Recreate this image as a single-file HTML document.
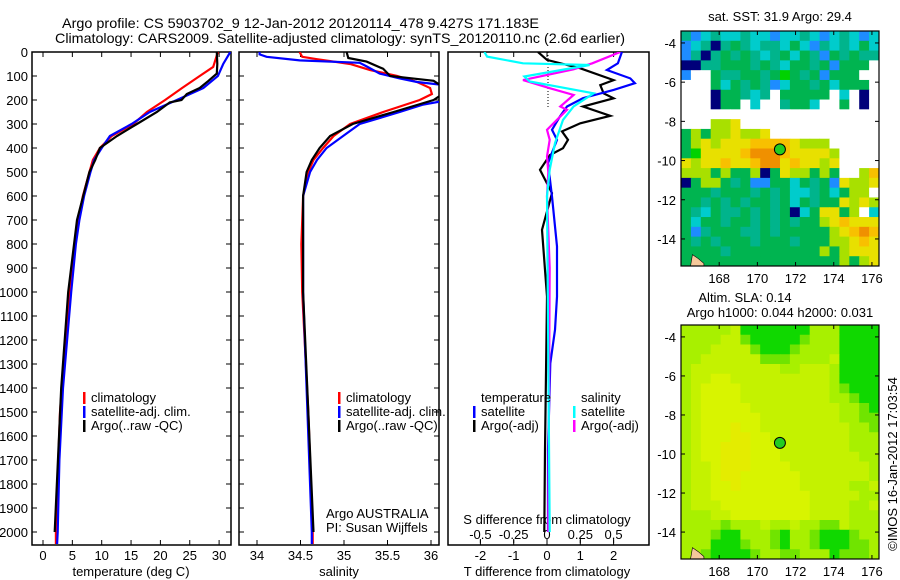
<!DOCTYPE html>
<html><head><meta charset="utf-8">
<style>
html,body{margin:0;padding:0;background:#fff;}
svg{display:block;font-family:"Liberation Sans",sans-serif;}
text{font-size:13px;fill:#000;}
</style></head>
<body>
<svg id="chart" width="900" height="580" viewBox="0 0 900 580" xmlns="http://www.w3.org/2000/svg">
<text x="62" y="28" style="font-size:14px" textLength="477" lengthAdjust="spacingAndGlyphs">Argo profile: CS 5903702_9 12-Jan-2012 20120114_478 9.427S 171.183E</text>
<text x="55" y="43" style="font-size:14px" textLength="570" lengthAdjust="spacingAndGlyphs">Climatology: CARS2009. Satellite-adjusted climatology: synTS_20120110.nc (2.6d earlier)</text>
<g id="g"></g>
</svg>
<script>
// ---- temperature profiles (depth m, temp degC)
const tClimDepth=[0,62,100,150,200,250,300,350,400,450,500,600,700,800,900,1000,1400,1500,1700,2000,2050];
const tClimVal=[29.8,29,26.7,23.7,20.8,17.7,15.4,11.7,9.7,8.5,7.9,6.8,6.0,5.4,5.0,4.6,3.2,2.9,2.6,2.2,2.2];
const tSatDepth=[0,50,100,150,200,250,300,350,400,450,500,600,700,800,1000,1400,1700,2000,2050];
const tSatVal=[31.9,30.7,29.8,27.3,22.8,18.2,15.1,11.4,10,8.7,8.1,7.0,6.2,5.6,4.8,3.4,2.8,2.5,2.4];
const tArgoDepth=[0,50,90,120,150,175,200,210,250,300,350,400,450,500,700,1000,1400,2000];
const tArgoVal=[29.6,29.7,29.6,28.2,26.7,24.5,23.6,21.6,19.4,16,12.6,9.7,8.9,7.9,5.8,4.3,3.1,2.0];
// ---- salinity profiles
const sClimDepth=[0,20,30,50,75,100,125,150,175,200,250,300,350,400,450,500,600,800,1000,1500,2000,2050];
const sClimVal=[34.49,34.52,34.69,35.07,35.30,35.61,35.84,35.99,36.01,35.87,35.45,35.07,34.88,34.76,34.65,34.59,34.53,34.51,34.52,34.59,34.64,34.64];
const sSatDepth=[0,10,20,35,45,60,90,110,125,140,200,220,250,300,350,400,450,500,600,1000,2000,2050];
const sSatVal=[34.03,34.03,34.11,34.49,35.18,35.26,35.41,35.64,35.84,36.2,36.2,35.9,35.64,35.18,34.99,34.8,34.69,34.61,34.53,34.53,34.63,34.63];
const sArgoDepth=[0,25,40,70,100,120,160,200,250,300,350,400,450,500,600,1000,2000];
const sArgoVal=[35.03,35.05,35.26,35.45,35.53,36.03,36.2,36.03,35.57,35.1,34.84,34.72,34.63,34.57,34.53,34.53,34.65];
// ---- differences from climatology
const dTSatDepth=[0,47,75,110,130,158,192,227,268,324,366,463,602,810,1019,1158,1297,1658,2000];
const dTSatVal=[2.25,2.13,1.8,2.5,2.64,2.0,1.08,0.6,0.39,0.15,0.3,0.03,0.15,0.3,0.3,0.24,0.1,0.03,0.03];
const dTArgoDepth=[0,33,68,117,138,172,193,227,266,297,331,366,401,429,491,588,741,1019,1658,2000];
const dTArgoVal=[-0.27,0,1.0,2.0,1.6,1.7,2.0,1.08,1.9,1.0,0.45,0.63,0.48,0.09,-0.21,0.15,-0.15,0,-0.06,-0.08];
const dSSatDepth=[0,19,47,54,102,123,172,227,283,380,491,600,2000];
const dSSatVal=[-0.47,-0.45,-0.18,0.32,-0.17,-0.13,0.35,0.2,0.12,0.06,0.02,0.0,0.02];
const dSArgoDepth=[0,47,72,117,151,179,227,241,324,366,436,500,600,900,2000];
const dSArgoVal=[0.55,0.34,0.2,-0.18,0.02,0.2,0.1,0.15,0,0.02,0,0.01,0,0.02,0.01];
// ---- ticks
const depthTicks=[0,100,200,300,400,500,600,700,800,900,1000,1100,1200,1300,1400,1500,1600,1700,1800,1900,2000];
const tempTicks=[0,5,10,15,20,25,30];
const salTicks=[34,34.5,35,35.5,36];
const salTickLabels=["34","34.5","35","35.5","36"];
const dTTicks=[-2,-1,0,1,2];
const dSTicks=[-0.5,-0.25,0,0.25,0.5];
const dSTickLabels=["-0.5","-0.25","0","0.25","0.5"];
const latTicks=[-4,-6,-8,-10,-12,-14];
const lonTicks=[168,170,172,174,176];
// ---- map grids (20 cols x 24 rows, lon 166.0-176.37, lat -3.39 to -15.38)
const sstRows=[
"tbctcctccbcctcbctcbc","bctBtgtcttcgcbtctcgc","btBtgtgtctgcgtbgtgtt","BBttgggtgtcggtgbgggW",
"bWWgttggtgGgtgbgggWW","WWWgcgtgtbcggtgcgggW","WWWBggtctWgggggWcWBW","WWWBggWcWWtggcWWgWBW",
"WWWWWWWWWWWWWWWWWWWW","WWWllyWWWWWWWWWWWWWW","glgllyllyWWWWWWWWWWW","glylyyyooooylllWWWWW",
"gGyyyyoOOOoyyyylWWWW","ylyyoyyoOOyoyylyWWWW","lllglgglBgyllglgWWlo","Bgllgtgbbggcgtgbylly",
"gggtgggtgtgcctgcgllW","ggtgtgtggtgcgtggylyl","gtcgttgtgtgBcgyyglWc","gcggtggtgtgtgglyoyyy",
"gbtgggttgtggggglyoOo","gtgtgggtgggtgggllyoy","ggggtggggggggglglyyy","gggggggggggggggglgly"];
const slaRows=[
"aaaaalGGGGGGGaaaGGGG","aaaallgGGGGGgaaaGGGG","aaallllgGGGgaaaaGGGG","aallllllgggaaaalGGGG",
"alllllllllaalllaGGGG","allyyllllllllllaGGGG","alyyyylllllllllagGGG","alyyyylllllllllaagGG",
"alyyyyylllllllllaagG","alyyyyyyllllllllaagg","alyyyYyylllllllllaag","alyyyYYyyllllllllaaa",
"alyyYYYyyylllllllaaa","alyyYYYyyyllllllllaa","allyYYYyyyylllllllla","allyYYyyyyyyllllllla",
"allyyYyyyyyylllllaal","allyyyyyyyyyylllllaa","alllyyyyyyyyyllllaal","aaallyyyyyyyyllllaaa",
"aaaagaaalaalaagglaaa","aaagGGaaagGaagGGGgaa","aaaGGGgaagGaagGGGgga","aagGGGGgaaggaaaGggga"];
const argoLon=171.18, argoLat=-9.43;

const sstColors={W:"#ffffff",B:"#00007a",b:"#1e8cff",c:"#00cccc",t:"#00b48c",g:"#00b450",G:"#00d200",l:"#a8e000",y:"#e8e000",o:"#f8c000",O:"#f09000"};
const slaColors={a:"#a8f000",l:"#c4f200",y:"#d8f400",Y:"#e4ec00",g:"#70e400",G:"#10d800"};

const NS="http://www.w3.org/2000/svg";
const root=document.getElementById('g');
function el(tag,attrs,parent){const e=document.createElementNS(NS,tag);for(const k in attrs)e.setAttribute(k,attrs[k]);(parent||root).appendChild(e);return e;}
function txt(s,x,y,anchor,parent){const t=el('text',{x:x,y:y,'text-anchor':anchor||'start'},parent);t.textContent=s;return t;}

const Y0=52,Y1=545;
const yD=d=>Y0+d*0.24;

function panel(name,x0,x1,xs,clipId){
  const g=el('g',{});
  
  
  const cp=el('clipPath',{id:clipId},g);el('rect',{x:x0,y:Y0,width:x1-x0,height:Y1-Y0},cp);
  const fr=el('rect',{x:x0,y:Y0,width:x1-x0,height:Y1-Y0,fill:'none',stroke:'#000','stroke-width':1.5},g);
  
  
  return g;
}
function line(g,depths,vals,xs,color,name,clipId){
  const pts=depths.map((d,i)=>xs(vals[i]).toFixed(1)+','+yD(d).toFixed(1)).join(' ');
  const p=el('polyline',{points:pts,fill:'none',stroke:color,'stroke-width':2.2,'clip-path':'url(#'+clipId+')'},g);
  
  
}
function legend(g,x,y,color,label){
  const r=el('rect',{x:x,y:y-10,width:2.5,height:12,fill:color},g);
  
  
  const t=txt(label,x+8,y,'start',g);
  
  
}
function depthTicksFor(g,x0,x1){
  depthTicks.forEach(d=>{
    el('line',{x1:x0,y1:yD(d),x2:x0+5,y2:yD(d),stroke:'#000'},g);
    el('line',{x1:x1,y1:yD(d),x2:x1-5,y2:yD(d),stroke:'#000'},g);
  });
}

// ---- Panel 1 temperature
const xT=v=>43+v*5.87;
const p1=panel('temperature-panel',32,231,xT,'c1');
depthTicksFor(p1,32,231);
depthTicks.forEach(d=>{const t=txt(String(d),28,yD(d)+5,'end',p1);});
tempTicks.forEach(v=>{
  el('line',{x1:xT(v),y1:Y1,x2:xT(v),y2:Y1-5,stroke:'#000'},p1);
  el('line',{x1:xT(v),y1:Y0,x2:xT(v),y2:Y0+5,stroke:'#000'},p1);
  const t=txt(String(v),xT(v),560,'middle',p1);
});
{const t=txt('temperature (deg C)',131,576,'middle',p1);}
line(p1,tClimDepth,tClimVal,xT,'#ff0000','temp-climatology-line','c1');
line(p1,tSatDepth,tSatVal,xT,'#0000ff','temp-satellite-line','c1');
line(p1,tArgoDepth,tArgoVal,xT,'#000000','temp-argo-line','c1');
legend(p1,83,402,'#ff0000','climatology');
legend(p1,83,416,'#0000ff','satellite-adj. clim.');
legend(p1,83,430,'#000000','Argo(..raw -QC)');

// ---- Panel 2 salinity
const xS=v=>257+(v-34)*87;
const p2=panel('salinity-panel',239,439,xS,'c2');
depthTicksFor(p2,239,439);
salTicks.forEach((v,i)=>{
  el('line',{x1:xS(v),y1:Y1,x2:xS(v),y2:Y1-5,stroke:'#000'},p2);
  el('line',{x1:xS(v),y1:Y0,x2:xS(v),y2:Y0+5,stroke:'#000'},p2);
  const t=txt(salTickLabels[i],xS(v),560,'middle',p2);
});
{const t=txt('salinity',339,576,'middle',p2);}
line(p2,sClimDepth,sClimVal,xS,'#ff0000','sal-climatology-line','c2');
line(p2,sSatDepth,sSatVal,xS,'#0000ff','sal-satellite-line','c2');
line(p2,sArgoDepth,sArgoVal,xS,'#000000','sal-argo-line','c2');
legend(p2,338,402,'#ff0000','climatology');
legend(p2,338,416,'#0000ff','satellite-adj. clim.');
legend(p2,338,430,'#000000','Argo(..raw -QC)');
{const t=txt('Argo AUSTRALIA',326,518,'start',p2);}
{const t=txt('PI: Susan Wijffels',326,532,'start',p2);}

// ---- Panel 3 differences
const xdT=v=>547+v*33.3;
const xdS=v=>547+v*133.2;
const p3=panel('difference-panel',448,649,xdT,'c3');
el('line',{x1:548,y1:Y0,x2:548,y2:yD(230),stroke:'#000','stroke-dasharray':'1,2'},p3);
dTTicks.forEach(v=>{
  el('line',{x1:xdT(v),y1:Y1,x2:xdT(v),y2:Y1-5,stroke:'#000'},p3);
  el('line',{x1:xdT(v),y1:Y0,x2:xdT(v),y2:Y0+5,stroke:'#000'},p3);
  const t=txt(String(v),xdT(v),560,'middle',p3);
});
dSTicks.forEach((v,i)=>{
  el('line',{x1:xdS(v),y1:543,x2:xdS(v),y2:539,stroke:'#000'},p3);
  const t=txt(dSTickLabels[i],xdS(v),539,'middle',p3);
});
{const t=txt('S difference from climatology',547,524,'middle',p3);}
{const t=txt('T difference from climatology',547,576,'middle',p3);}
line(p3,dTArgoDepth,dTArgoVal,xdT,'#000000','tdiff-argo-line','c3');
line(p3,dTSatDepth,dTSatVal,xdT,'#0000ff','tdiff-satellite-line','c3');
line(p3,dSArgoDepth,dSArgoVal,xdS,'#ff00ff','sdiff-argo-line','c3');
line(p3,dSSatDepth,dSSatVal,xdS,'#00ffff','sdiff-satellite-line','c3');
{const t=txt('temperature',481,402,'start',p3);}
{const t=txt('salinity',581,402,'start',p3);}
legend(p3,473,416,'#0000ff','satellite');
legend(p3,473,430,'#000000','Argo(-adj)');
legend(p3,573,416,'#00ffff','satellite');
legend(p3,573,430,'#ff00ff','Argo(-adj)');

// ---- Maps
const LON0=166.0,LON1=176.37,LAT0=-3.39,LAT1=-15.38;
function map(name,x0,x1,y0,y1,rows,colors,clipId){
  const g=el('g',{});
  
  
  const xl=lon=>x0+(lon-LON0)/(LON1-LON0)*(x1-x0);
  const yl=lat=>y0+(lat-LAT0)/(LAT1-LAT0)*(y1-y0);
  const nr=rows.length,nc=rows[0].length;
  const cw=(x1-x0)/nc,ch=(y1-y0)/nr;
  rows.forEach((r,i)=>{for(let j=0;j<nc;j++){
    const c=el('rect',{x:(x0+j*cw).toFixed(2),y:(y0+i*ch).toFixed(2),width:(cw+0.5).toFixed(2),height:(ch+0.5).toFixed(2),fill:colors[r[j]]||'#fff'},g);
    
    
  }});
  // land patch
  el('path',{d:`M${xl(166.5)} ${y1} L${xl(166.6)} ${yl(-14.8)} L${xl(166.9)} ${yl(-15.0)} L${xl(167.2)} ${yl(-15.25)} L${xl(167.2)} ${y1} Z`,fill:'#f5c89a',stroke:'#000','stroke-width':0.6},g);
  const fr=el('rect',{x:x0,y:y0,width:x1-x0,height:y1-y0,fill:'none',stroke:'#000','stroke-width':1.2},g);
  
  
  latTicks.forEach(v=>{
    el('line',{x1:x0,y1:yl(v),x2:x0+4,y2:yl(v),stroke:'#000'},g);
    el('line',{x1:x1,y1:yl(v),x2:x1-4,y2:yl(v),stroke:'#000'},g);
    const t=txt(String(v).replace('-','-'),x0-5,yl(v)+5,'end',g);
  });
  lonTicks.forEach(v=>{
    el('line',{x1:xl(v),y1:y1,x2:xl(v),y2:y1-4,stroke:'#000'},g);
    el('line',{x1:xl(v),y1:y0,x2:xl(v),y2:y0+4,stroke:'#000'},g);
    const t=txt(String(v),xl(v),y1+17,'middle',g);
  });
  const dot=el('circle',{cx:xl(argoLon),cy:yl(argoLat),r:5.5,fill:'#22cc22',stroke:'#000','stroke-width':1},g);
  
  
}
map('sst-map',681,879,31,266,sstRows,sstColors,'m1');
map('sla-map',681,879,325,559,slaRows,slaColors,'m2');
{const t=txt('sat. SST: 31.9 Argo: 29.4',780,21,'middle');}
{const t=txt('Altim. SLA: 0.14',745,302,'middle');}
{const t=txt('Argo h1000: 0.044 h2000: 0.031',780,317,'middle');}
{const t=txt('©IMOS 16-Jan-2012 17:03:54',0,0,'middle');t.setAttribute('transform','translate(897,464) rotate(-90)');}
</script>
</body></html>
